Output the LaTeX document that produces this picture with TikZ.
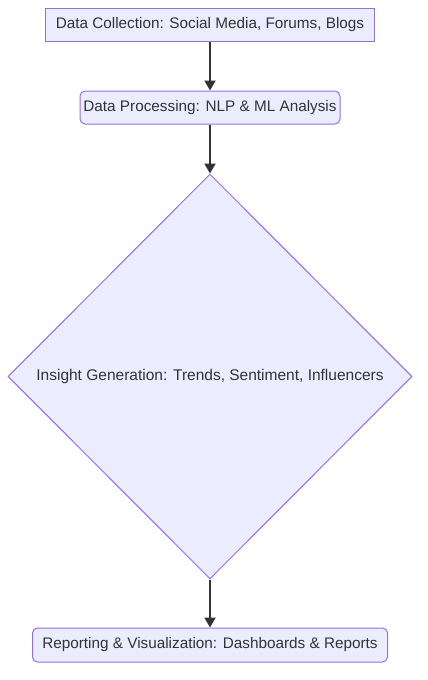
\documentclass[tikz,border=0pt]{standalone}
\usepackage{fontspec}
\setmainfont{Liberation Sans}
\usetikzlibrary{positioning,shapes.geometric,arrows.meta}
\definecolor{boxfill}{HTML}{ECECFF}
\definecolor{boxline}{HTML}{9370DB}
\definecolor{arrline}{HTML}{333333}

\begin{document}
\begin{tikzpicture}[
    x=1pt, y=1pt,
    node distance = 49pt,
    stepbox/.style = {draw=boxline,
                      fill=boxfill,
                      line width=1pt,
                      inner xsep=2pt,
                      minimum height=33pt,
                      text=arrline,
                      font=\fontsize{15.3}{17}\selectfont},
    roundbox/.style = {stepbox,
                       rounded corners=5pt},
    decision/.style = {diamond,
                       draw=boxline,
                       fill=boxfill,
                       line width=1pt,
                       inner sep=0pt,
                       minimum width=404pt,
                       minimum height=405pt,
                       text=arrline,
                       font=\fontsize{15.5}{17}\selectfont},
    arr/.style      = {draw=arrline,
                       line width=2pt,
                       -{Triangle[length=10pt,width=11pt]}}
]
\useasboundingbox (0,0) rectangle (428,-680);
\node (dc) [stepbox, minimum width=329pt] at (210,-24.5)
    {Data Collection: Social Media, Forums, Blogs};
\node (dp) [roundbox, minimum width=260pt, below=of dc]
    {Data Processing: NLP \& ML Analysis};
\node (ig) [decision, below=of dp]
    {Insight Generation: Trends, Sentiment, Influencers};
\node (rv) [roundbox, minimum width=355pt, minimum height=34pt, below=48pt of ig]
    {Reporting \& Visualization: Dashboards \& Reports};
\draw[arr] (dc) -- (dp);
\draw[arr] (dp) -- (ig);
\draw[arr] (ig) -- (rv);
\end{tikzpicture}
\end{document}
